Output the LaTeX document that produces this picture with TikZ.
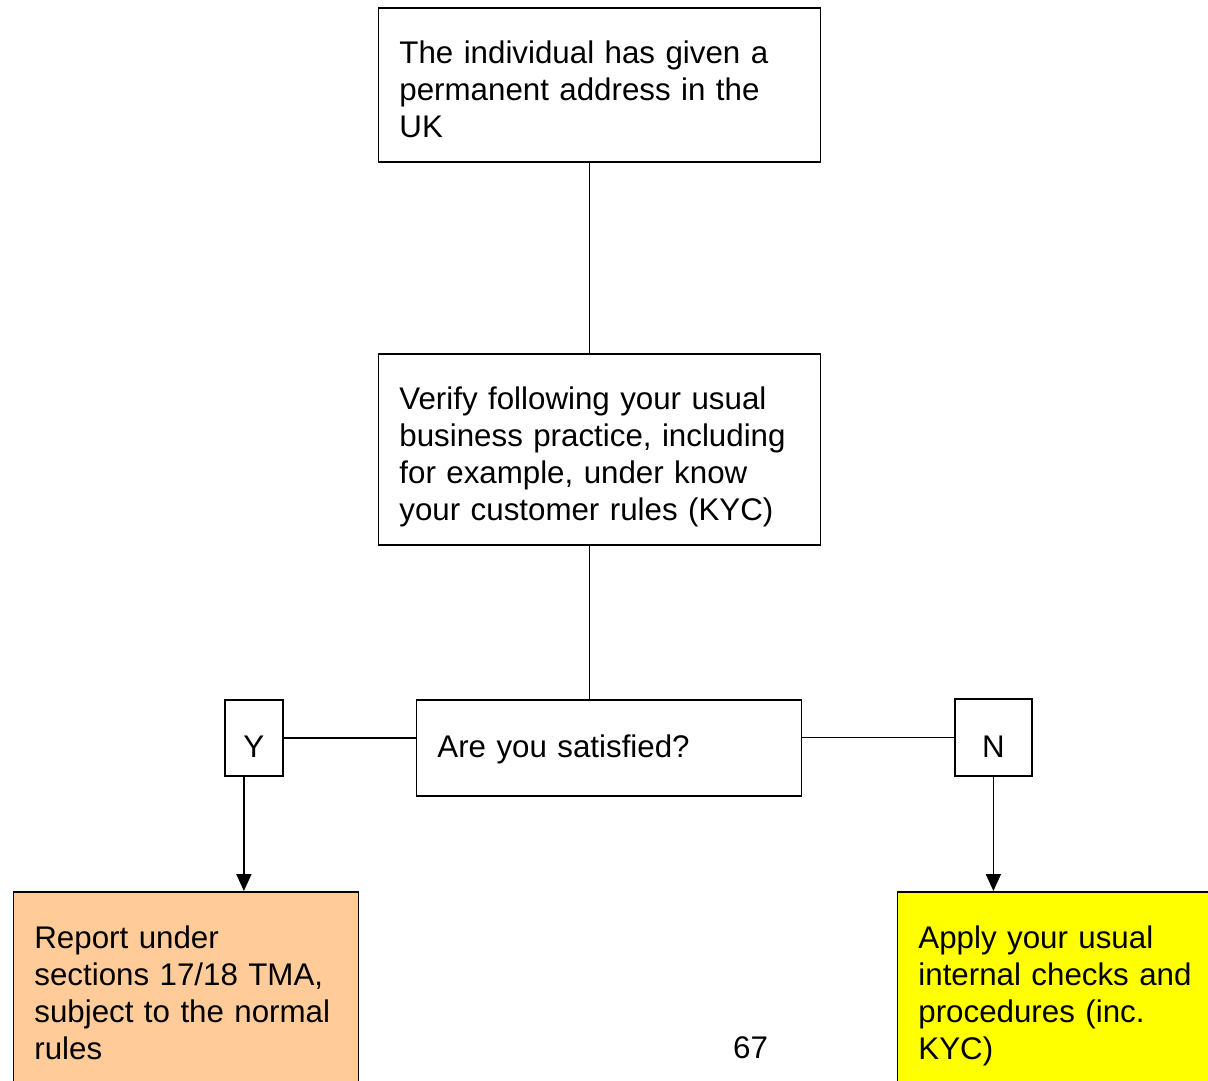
\documentclass[tikz,border=0pt]{standalone}
\usepackage{fontspec}
\setmainfont{Liberation Sans}
\usetikzlibrary{arrows.meta}
\definecolor{peach}{HTML}{FFCC99}
\definecolor{brightyellow}{HTML}{FFFF00}
\begin{document}
\begin{tikzpicture}[x=1pt,y=-1pt,
  box/.style={draw, line width=1.8pt, rectangle, anchor=north west, inner xsep=21pt, inner ysep=0pt, align=left, font=\fontsize{31.3}{37}\selectfont},
  tag/.style={box, inner xsep=0pt, align=center},
  conn/.style={line width=1.8pt},
  arr/.style={line width=1.8pt, -{Triangle[length=17pt,width=15pt]}},
  plain/.style={font=\fontsize{31.3}{37}\selectfont, inner sep=0pt, anchor=base west}]
\useasboundingbox (0,0) rectangle (1208,1080);
\clip (0,0) rectangle (1208,1080);

\node[box, text width=400pt, text height=56pt, text depth=98pt] (top) at (377.5,7)
  {The individual has given a\\permanent address in the\\UK};
\node[box, text width=400pt, text height=56pt, text depth=135pt] (mid) at (377.5,353)
  {Verify following your usual\\business practice, including\\for example, under know\\your customer rules (KYC)};
\node[box, text width=343pt, text height=58pt, text depth=38pt] (sat) at (415.5,699)
  {Are you satisfied?};
\node[tag, text width=58pt, text height=58pt, text depth=18pt] (Y) at (224,699) {Y};
\node[tag, text width=77pt, text height=59pt, text depth=18pt] (N) at (954,698) {N};
\node[box, fill=peach, text width=303pt, text height=57pt, text depth=250pt] (rep) at (12.5,891)
  {Report under\\sections 17/18 TMA,\\subject to the normal\\rules};
\node[box, fill=brightyellow, text width=290pt, text height=57pt, text depth=250pt] (app) at (896.5,891)
  {Apply your usual\\internal checks and\\procedures (inc.\\KYC)};
\node[plain] (pg) at (733,1058) {67};

\draw[conn] ([xshift=-10pt]top.south) -- ([xshift=-10pt]top.south |- mid.north);
\draw[conn] ([xshift=-10pt]mid.south) -- ([xshift=-10pt]mid.south |- sat.north);
\draw[conn] (Y.east) -- (Y.east -| sat.west);
\draw[conn] (N.west -| sat.east) -- (N.west);
\draw[arr] ([xshift=-10pt]Y.south) -- ([xshift=-10pt]Y.south |- rep.north);
\draw[arr] (N.south) -- (N.south |- app.north);
\end{tikzpicture}
\end{document}
